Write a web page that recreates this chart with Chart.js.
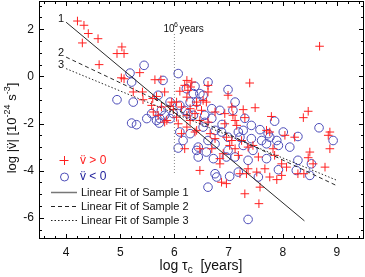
<!DOCTYPE html>
<html>
<head>
<meta charset="utf-8">
<script src="https://cdn.jsdelivr.net/npm/chart.js@4.4.1/dist/chart.umd.min.js"></script>
<style>
html, body { margin: 0; padding: 0; background: #fff; }
#wrap { width: 365px; height: 277px; }
</style>
</head>
<body>
<div id="wrap"><canvas id="chart" width="365" height="277"></canvas></div>
<script>
// log tau_c (x) and log |nu-ddot| (y), split by sign of nu-ddot
const posX = [4.21, 4.33, 4.41, 4.30, 4.59, 5.03, 4.94, 5.07, 4.61, 5.36, 5.02, 5.07, 5.64, 5.75, 6.23, 6.19, 6.30, 5.24, 5.41, 5.82,
    6.10, 6.25, 5.67, 5.42, 5.60, 5.95, 6.04, 6.23, 6.41, 5.58, 5.76, 5.92, 5.98, 6.13, 6.29, 5.61, 5.70, 5.86, 6.04, 6.23,
    6.38, 6.07, 6.29, 6.23, 6.13, 6.38, 6.19, 5.82, 6.62, 7.39, 6.99, 6.53, 6.59, 6.41, 7.49, 7.27, 7.06, 6.50, 6.75, 6.93,
    7.08, 7.12, 7.30, 7.79, 8.38, 6.47, 6.62, 6.93, 7.15, 7.70, 7.76, 8.04, 8.22, 6.41, 6.66, 6.75, 6.96, 7.06, 7.24, 7.45,
    7.02, 6.47, 6.69, 7.12, 7.36, 7.82, 6.90, 7.85, 6.84, 7.18, 7.55, 6.84, 7.98, 8.07, 6.47, 7.36, 7.67, 7.76, 7.98, 7.33,
    6.87, 6.96, 7.58, 7.30, 7.52, 7.56, 7.21, 7.89, 8.68, 8.47, 8.87, 8.84, 8.50, 8.47, 8.87, 8.78, 8.28, 8.39, 8.56, 6.32, 6.62];
const posY = [2.35, 2.17, 1.82, 1.42, 1.60, 1.25, 0.97, 0.97, 0.50, 0.16, -0.06, -0.10, -0.14, -0.14, -0.17, -0.38, -0.45, -0.66, -0.66, -0.66,
    -0.63, -0.59, -0.85, -0.99, -0.94, -1.09, -1.09, -0.88, -1.09, -1.23, -1.30, -1.27, -1.41, -1.30, -1.37, -1.51, -1.65, -1.87, -1.73, -1.65,
    -1.58, -2.01, -1.87, -2.15, -2.43, -2.36, -3.07, -1.94, -0.66, -0.28, -0.80, -1.02, -1.09, -1.23, -1.33, -1.41, -1.30, -1.44, -1.51, -1.58,
    -1.65, -1.87, -1.75, -1.70, -1.75, -1.87, -1.94, -2.01, -2.08, -2.29, -2.36, -2.50, -2.58, -2.29, -2.43, -2.64, -2.58, -2.72, -2.72, -2.93,
    -2.93, -3.07, -3.07, -3.07, -3.00, -3.07, -3.28, -3.35, -3.49, -3.35, -3.42, -3.71, -3.71, -3.85, -3.99, -3.92, -3.92, -4.27, -4.20, -4.13,
    -4.49, -4.55, -4.70, -4.98, -4.06, -5.40, -4.13, -4.38, 1.28, -1.48, -2.36, -2.50, -3.21, -3.45, -3.07, -3.85, -4.13, -4.13, -3.71, -0.24, -0.38];

const negX = [5.44, 5.18, 6.07, 4.94, 5.21, 5.24, 5.70, 6.35, 6.41, 5.58, 5.67, 5.82, 5.49, 5.73, 5.92, 5.21, 5.30, 5.98, 6.10, 6.19,
    6.25, 6.35, 6.10, 6.29, 6.16, 6.07, 6.44, 6.44, 5.92, 6.29, 5.79, 5.76, 5.72, 6.62, 6.99, 7.12, 6.47, 6.69, 6.84, 6.56,
    7.42, 7.85, 7.58, 7.27, 8.01, 8.13, 8.28, 6.53, 6.75, 6.87, 7.18, 6.99, 6.62, 7.21, 7.42, 7.61, 7.76, 7.89, 6.75, 7.27,
    7.70, 6.41, 6.59, 6.99, 7.45, 7.92, 6.72, 6.96, 7.12, 7.36, 7.70, 8.28, 6.75, 6.78, 7.02, 7.18, 7.55, 7.92, 8.25, 6.62,
    7.36, 8.50, 8.67, 8.93, 8.53, 6.22, 6.38, 6.53, 7.08, 7.73, 6.56, 6.69, 6.88, 7.30];
const negY = [0.47, 0.14, 0.12, -0.99, -0.24, -1.09, -0.80, -0.73, -1.09, -1.58, -1.87, -1.65, -1.79, -1.79, -1.79, -1.98, -2.05, -1.58, -1.23, -1.44,
    -1.58, -1.65, -2.36, -2.43, -2.72, -3.04, -3.00, -3.42, -1.09, -1.09, -0.17, -1.44, -1.98, -0.24, -0.56, -1.09, -0.73, -1.37, -1.44, -1.65,
    -2.08, -1.90, -2.26, -2.29, -2.36, -3.00, -2.55, -2.15, -2.29, -2.36, -2.36, -2.58, -2.72, -2.58, -2.64, -2.72, -2.58, -2.72, -2.86, -2.93,
    -2.86, -3.14, -3.21, -3.14, -3.14, -2.93, -3.49, -3.42, -3.42, -3.56, -3.49, -3.56, -4.13, -4.27, -4.24, -4.06, -4.27, -3.96, -3.99, -4.70,
    -6.07, -4.20, -2.18, -2.72, -3.71, -0.52, -0.42, -0.80, -1.44, -2.43, -1.95, -1.78, -2.04, -1.78];

// linear fits (end points)
const fit1X = [4.0, 8.4];
const fit1Y = [2.30, -6.13];
const fit2X = [4.0, 9.0];
const fit2Y = [0.82, -4.64];
const fit3X = [4.0, 9.0];
const fit3Y = [0.33, -4.41];

// 10^6 years marker
const ageX = [6, 6];
const ageY = [1.8, -4.1];

const xTicks = [4, 5, 6, 7, 8, 9];
const yTicks = [-6, -4, -2, 0, 2];

const RED = "#ff2020";
const BLUE = "#4c4cb8";
const LINE = "#2a2a2a";
const FONT = "Arial, 'Liberation Sans', sans-serif";

function pts(xs, ys) {
    return xs.map((x, i) => ({x: x, y: ys[i]}));
}

function drawRich(ctx, x, y, parts) {
    // parts: [text, size, dy]
    let w = 0;
    for (const p of parts) {
        ctx.font = p[1] + "px " + FONT;
        w += ctx.measureText(p[0]).width;
    }
    let cx = x - w / 2;
    for (const p of parts) {
        ctx.font = p[1] + "px " + FONT;
        ctx.fillText(p[0], cx, y + p[2]);
        cx += ctx.measureText(p[0]).width;
    }
}

function noPad(scale) {
    scale.paddingTop = 0;
    scale.paddingBottom = 0;
    scale.paddingLeft = 0;
    scale.paddingRight = 0;
}

const decorPlugin = {
    id: "decor",
    afterDraw(chart) {
        const ctx = chart.ctx;
        const a = chart.chartArea;
        const xs = chart.scales.x;
        const ys = chart.scales.y;
        ctx.save();

        // frame
        ctx.strokeStyle = "#000";
        ctx.lineWidth = 1;
        ctx.strokeRect(a.left + 0.5, a.top + 0.5, a.right - a.left - 1, a.bottom - a.top - 1);

        // inward ticks on all four sides
        ctx.beginPath();
        for (let v = 3.6; v < 9.45; v += 0.2) {
            const r = Math.round(v * 10) / 10;
            const len = Math.abs(r - Math.round(r)) < 1e-6 ? 5 : 3;
            const px = Math.round(xs.getPixelForValue(r)) + 0.5;
            ctx.moveTo(px, a.bottom);
            ctx.lineTo(px, a.bottom - len);
            ctx.moveTo(px, a.top);
            ctx.lineTo(px, a.top + len);
        }
        for (let v = -6.5; v <= 3.01; v += 0.5) {
            const len = Math.abs(v / 2 - Math.round(v / 2)) < 1e-6 ? 5 : 3;
            const py = Math.round(ys.getPixelForValue(v)) + 0.5;
            ctx.moveTo(a.left, py);
            ctx.lineTo(a.left + len, py);
            ctx.moveTo(a.right, py);
            ctx.lineTo(a.right - len, py);
        }
        ctx.stroke();

        ctx.fillStyle = "#111";
        ctx.textBaseline = "middle";
        ctx.textAlign = "left";

        // fit labels
        ctx.font = "11px " + FONT;
        ctx.fillText("1", xs.getPixelForValue(fit1X[0]) - 8, ys.getPixelForValue(fit1Y[0]) - 3);
        ctx.fillText("2", xs.getPixelForValue(fit2X[0]) - 8, ys.getPixelForValue(fit2Y[0]) - 4);
        ctx.fillText("3", xs.getPixelForValue(fit3X[0]) - 8, ys.getPixelForValue(fit3Y[0]) - 4);

        // 10^6 years
        const mx = xs.getPixelForValue(ageX[0]);
        const my = ys.getPixelForValue(ageY[0]) - 5;
        ctx.font = "10px " + FONT;
        ctx.fillText("10", mx - 11, my);
        ctx.font = "7px " + FONT;
        ctx.fillText("6", mx - 0.5, my - 4);
        ctx.font = "10px " + FONT;
        ctx.fillText("years", mx + 5, my);

        // legend
        const lx = 64;
        ctx.strokeStyle = RED;
        ctx.beginPath();
        ctx.moveTo(lx - 4.5, 160.5); ctx.lineTo(lx + 4.5, 160.5);
        ctx.moveTo(lx + 0.5, 156); ctx.lineTo(lx + 0.5, 165);
        ctx.stroke();
        ctx.strokeStyle = BLUE;
        ctx.beginPath();
        ctx.arc(lx + 0.5, 177, 4, 0, Math.PI * 2);
        ctx.stroke();
        ctx.font = "12px " + FONT;
        ctx.fillStyle = RED;
        ctx.fillText("v\u0308 > 0", 80, 160.5);
        ctx.fillStyle = "#1d1d9a";
        ctx.fillText("v\u0308 < 0", 80, 177);

        const dashes = [[], [4, 3], [1.5, 2]];
        ctx.font = "11px " + FONT;
        for (let i = 0; i < 3; i++) {
            const yy = 192.5 + i * 14;
            ctx.strokeStyle = i === 0 ? "#777" : "#222";
            ctx.lineWidth = i === 0 ? 1.5 : 1;
            ctx.setLineDash(dashes[i]);
            ctx.beginPath();
            ctx.moveTo(51, yy);
            ctx.lineTo(77, yy);
            ctx.stroke();
            ctx.setLineDash([]);
            ctx.fillStyle = "#111";
            ctx.fillText("Linear Fit of Sample " + (i + 1), 81, yy);
        }

        // axis titles
        ctx.fillStyle = "#111";
        ctx.textBaseline = "alphabetic";
        drawRich(ctx, 201, 270, [["log \u03c4", 14, 0], ["c", 10, 3], ["  [years]", 14, 0]]);

        ctx.translate(16, 128);
        ctx.rotate(-Math.PI / 2);
        drawRich(ctx, 0, 0, [["log |v\u0308| [10", 13, 0], ["-24", 9, -6], [" s", 13, 0], ["-3", 9, -6], ["]", 13, 0]]);
        ctx.restore();
    }
};

const config = {
    type: "scatter",
    data: {
        datasets: [
            {
                label: "Linear Fit of Sample 1",
                data: pts(fit1X, fit1Y),
                showLine: true,
                borderColor: LINE,
                borderWidth: 1,
                pointRadius: 0
            },
            {
                label: "Linear Fit of Sample 2",
                data: pts(fit2X, fit2Y),
                showLine: true,
                borderColor: LINE,
                borderWidth: 1,
                borderDash: [4, 3],
                pointRadius: 0
            },
            {
                label: "Linear Fit of Sample 3",
                data: pts(fit3X, fit3Y),
                showLine: true,
                borderColor: LINE,
                borderWidth: 1,
                borderDash: [1.5, 2],
                pointRadius: 0
            },
            {
                label: "10^6 years",
                data: pts(ageX, ageY),
                showLine: true,
                borderColor: "#888",
                borderWidth: 1,
                borderDash: [1, 2],
                pointRadius: 0
            },
            {
                label: "v > 0",
                data: pts(posX, posY),
                pointStyle: "cross",
                pointRadius: 4.3,
                borderColor: RED,
                backgroundColor: RED,
                pointBorderWidth: 1
            },
            {
                label: "v < 0",
                data: pts(negX, negY),
                pointStyle: "circle",
                pointRadius: 4.3,
                borderColor: BLUE,
                backgroundColor: "rgba(0,0,0,0)",
                pointBorderWidth: 1
            }
        ]
    },
    options: {
        responsive: false,
        animation: false,
        events: [],
        layout: {
            autoPadding: false,
            padding: {top: 1, right: 1, left: 0, bottom: 0}
        },
        plugins: {
            legend: {display: false},
            tooltip: {enabled: false}
        },
        scales: {
            x: {
                type: "linear",
                min: 3.5,
                max: 9.5,
                grid: {display: false, drawTicks: false},
                border: {display: false},
                afterBuildTicks: (scale) => {
                    scale.ticks = xTicks.map(v => ({value: v}));
                },
                afterFit: (scale) => {
                    scale.height = 38;
                    noPad(scale);
                },
                ticks: {
                    color: "#111",
                    padding: 6,
                    font: {family: FONT, size: 12}
                }
            },
            y: {
                type: "linear",
                min: -6.9,
                max: 3.2,
                grid: {display: false, drawTicks: false},
                border: {display: false},
                afterBuildTicks: (scale) => {
                    scale.ticks = yTicks.map(v => ({value: v}));
                },
                afterFit: (scale) => {
                    scale.width = 39;
                    noPad(scale);
                },
                ticks: {
                    color: "#111",
                    padding: 5,
                    font: {family: FONT, size: 12}
                }
            }
        }
    },
    plugins: [decorPlugin]
};

new Chart(document.getElementById("chart").getContext("2d"), config);
</script>
</body>
</html>
